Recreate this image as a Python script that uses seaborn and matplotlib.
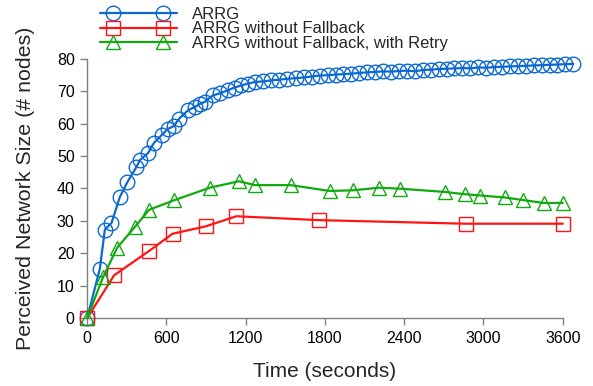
import matplotlib
matplotlib.use("Agg")
import matplotlib.pyplot as plt
import seaborn as sns
import pandas as pd
from matplotlib.lines import Line2D
from matplotlib.legend_handler import HandlerLine2D, HandlerTuple

# ---------------- data ----------------
arrg_t = [0, 96, 134, 184, 247, 305, 373, 399, 461, 505, 563, 613, 656, 696, 764,
          815, 852, 890, 953, 1004, 1067, 1117, 1168, 1218, 1269, 1330, 1390, 1450,
          1515, 1580, 1640, 1700, 1760, 1820, 1880, 1940, 2000, 2060, 2120, 2180,
          2240, 2300, 2360, 2420, 2480, 2540, 2600, 2660, 2720, 2780, 2840, 2900,
          2960, 3020, 3080, 3140, 3200, 3260, 3320, 3380, 3440, 3500, 3560, 3620, 3680]
arrg_v = [0, 15.2, 27.3, 29.3, 37.3, 42.0, 46.6, 48.7, 50.9, 54.0, 56.4, 58.4, 59.2,
          61.5, 64.1, 65.1, 66.0, 66.7, 68.7, 69.3, 70.3, 71.1, 71.8, 72.3, 72.8,
          73.0, 73.3, 73.5, 73.8, 74.0, 74.2, 74.5, 74.8, 74.9, 75.1, 75.2, 75.4,
          75.6, 75.8, 75.9, 76.1, 76.0, 76.2, 76.3, 76.1, 76.5, 76.6, 76.8, 76.9,
          77.0, 77.1, 77.0, 77.3, 77.2, 77.4, 77.5, 77.6, 77.7, 77.8, 77.9, 78.0,
          78.1, 78.2, 78.3, 78.4]

nofb_t = [0, 204, 469, 646, 898, 1130, 1755, 2865, 3600]
nofb_v = [0, 13.2, 20.7, 26.0, 28.3, 31.4, 30.2, 29.1, 29.1]

retry_t = [0, 121, 227, 361, 469, 656, 928, 1150, 1269, 1541, 1836, 2012, 2209,
           2371, 2707, 2858, 2976, 3160, 3298, 3455, 3600]
retry_v = [0, 12.7, 21.7, 28.1, 33.4, 36.3, 40.2, 42.2, 41.0, 41.0, 39.2, 39.4,
           40.2, 39.9, 38.9, 38.2, 37.8, 37.2, 36.4, 35.5, 35.5]

labels = ["ARRG", "ARRG without Fallback", "ARRG without Fallback, with Retry"]
colors = ["#0a68d0", "#ff1414", "#10aa10"]
markers = ["o", "s", "^"]
msizes = [10.5, 9.5, 10.5]

x_ticks = [0, 600, 1200, 1800, 2400, 3000, 3600]
y_ticks = [0, 10, 20, 30, 40, 50, 60, 70, 80]

# ---------------- style ----------------
sns.set_theme(style="white")
plt.rcParams["font.family"] = ["Liberation Sans", "DejaVu Sans"]

fig = plt.figure(figsize=(5.93, 3.86), dpi=100)
ax = fig.add_axes([0.147, 0.176, 0.802, 0.672])

series = [(arrg_t, arrg_v), (nofb_t, nofb_v), (retry_t, retry_v)]
for (t, v), lab, c, m, ms in zip(series, labels, colors, markers, msizes):
    df = pd.DataFrame({"t": t, "v": v})
    sns.lineplot(data=df, x="t", y="v", ax=ax, color=c, marker=m,
                 markersize=ms, markerfacecolor="none", markeredgecolor=c,
                 markeredgewidth=1.0, linewidth=1.6, sort=False,
                 estimator=None, clip_on=False, zorder=3)

ax.set_xlim(0, 3600)
ax.set_ylim(0, 80)
ax.set_xticks(x_ticks)
ax.set_yticks(y_ticks)
ax.set_xticklabels([str(x) for x in x_ticks], fontsize=11.5)
ax.set_yticklabels([str(y) for y in y_ticks], fontsize=11.5)
ax.set_xlabel("Time (seconds)", fontsize=15, labelpad=12)
ax.set_ylabel("Perceived Network Size (# nodes)", fontsize=15.4, labelpad=16)

for s in ["top", "right"]:
    ax.spines[s].set_visible(False)
for s in ["left", "bottom"]:
    ax.spines[s].set_color("#808080")
    ax.spines[s].set_linewidth(1.0)
ax.tick_params(axis="both", direction="out", length=5, width=1.0,
               color="#808080", labelcolor="black", pad=4,
               bottom=True, left=True)

# ---------------- legend ----------------
handles = []
hmap = {}
for lab, c, m, ms in zip(labels, colors, markers, msizes):
    ln = Line2D([], [], color=c, linewidth=1.6)
    mk = Line2D([], [], color=c, linestyle="none", marker=m, markersize=ms,
                markerfacecolor="none", markeredgecolor=c, markeredgewidth=1.0)
    hmap[ln] = HandlerLine2D(numpoints=2, marker_pad=0.0)
    hmap[mk] = HandlerLine2D(numpoints=2, marker_pad=0.8)
    handles.append((ln, mk))
hmap[tuple] = HandlerTuple(ndivide=1)
leg = fig.legend(handles, labels, handler_map=hmap,
                 loc="upper left", bbox_to_anchor=(0.163, 0.99), frameon=False,
                 fontsize=12, handlelength=4.6, handletextpad=0.9,
                 labelspacing=-0.05, borderaxespad=0.0, borderpad=0.2)

fig.savefig("out.png", dpi=100)
